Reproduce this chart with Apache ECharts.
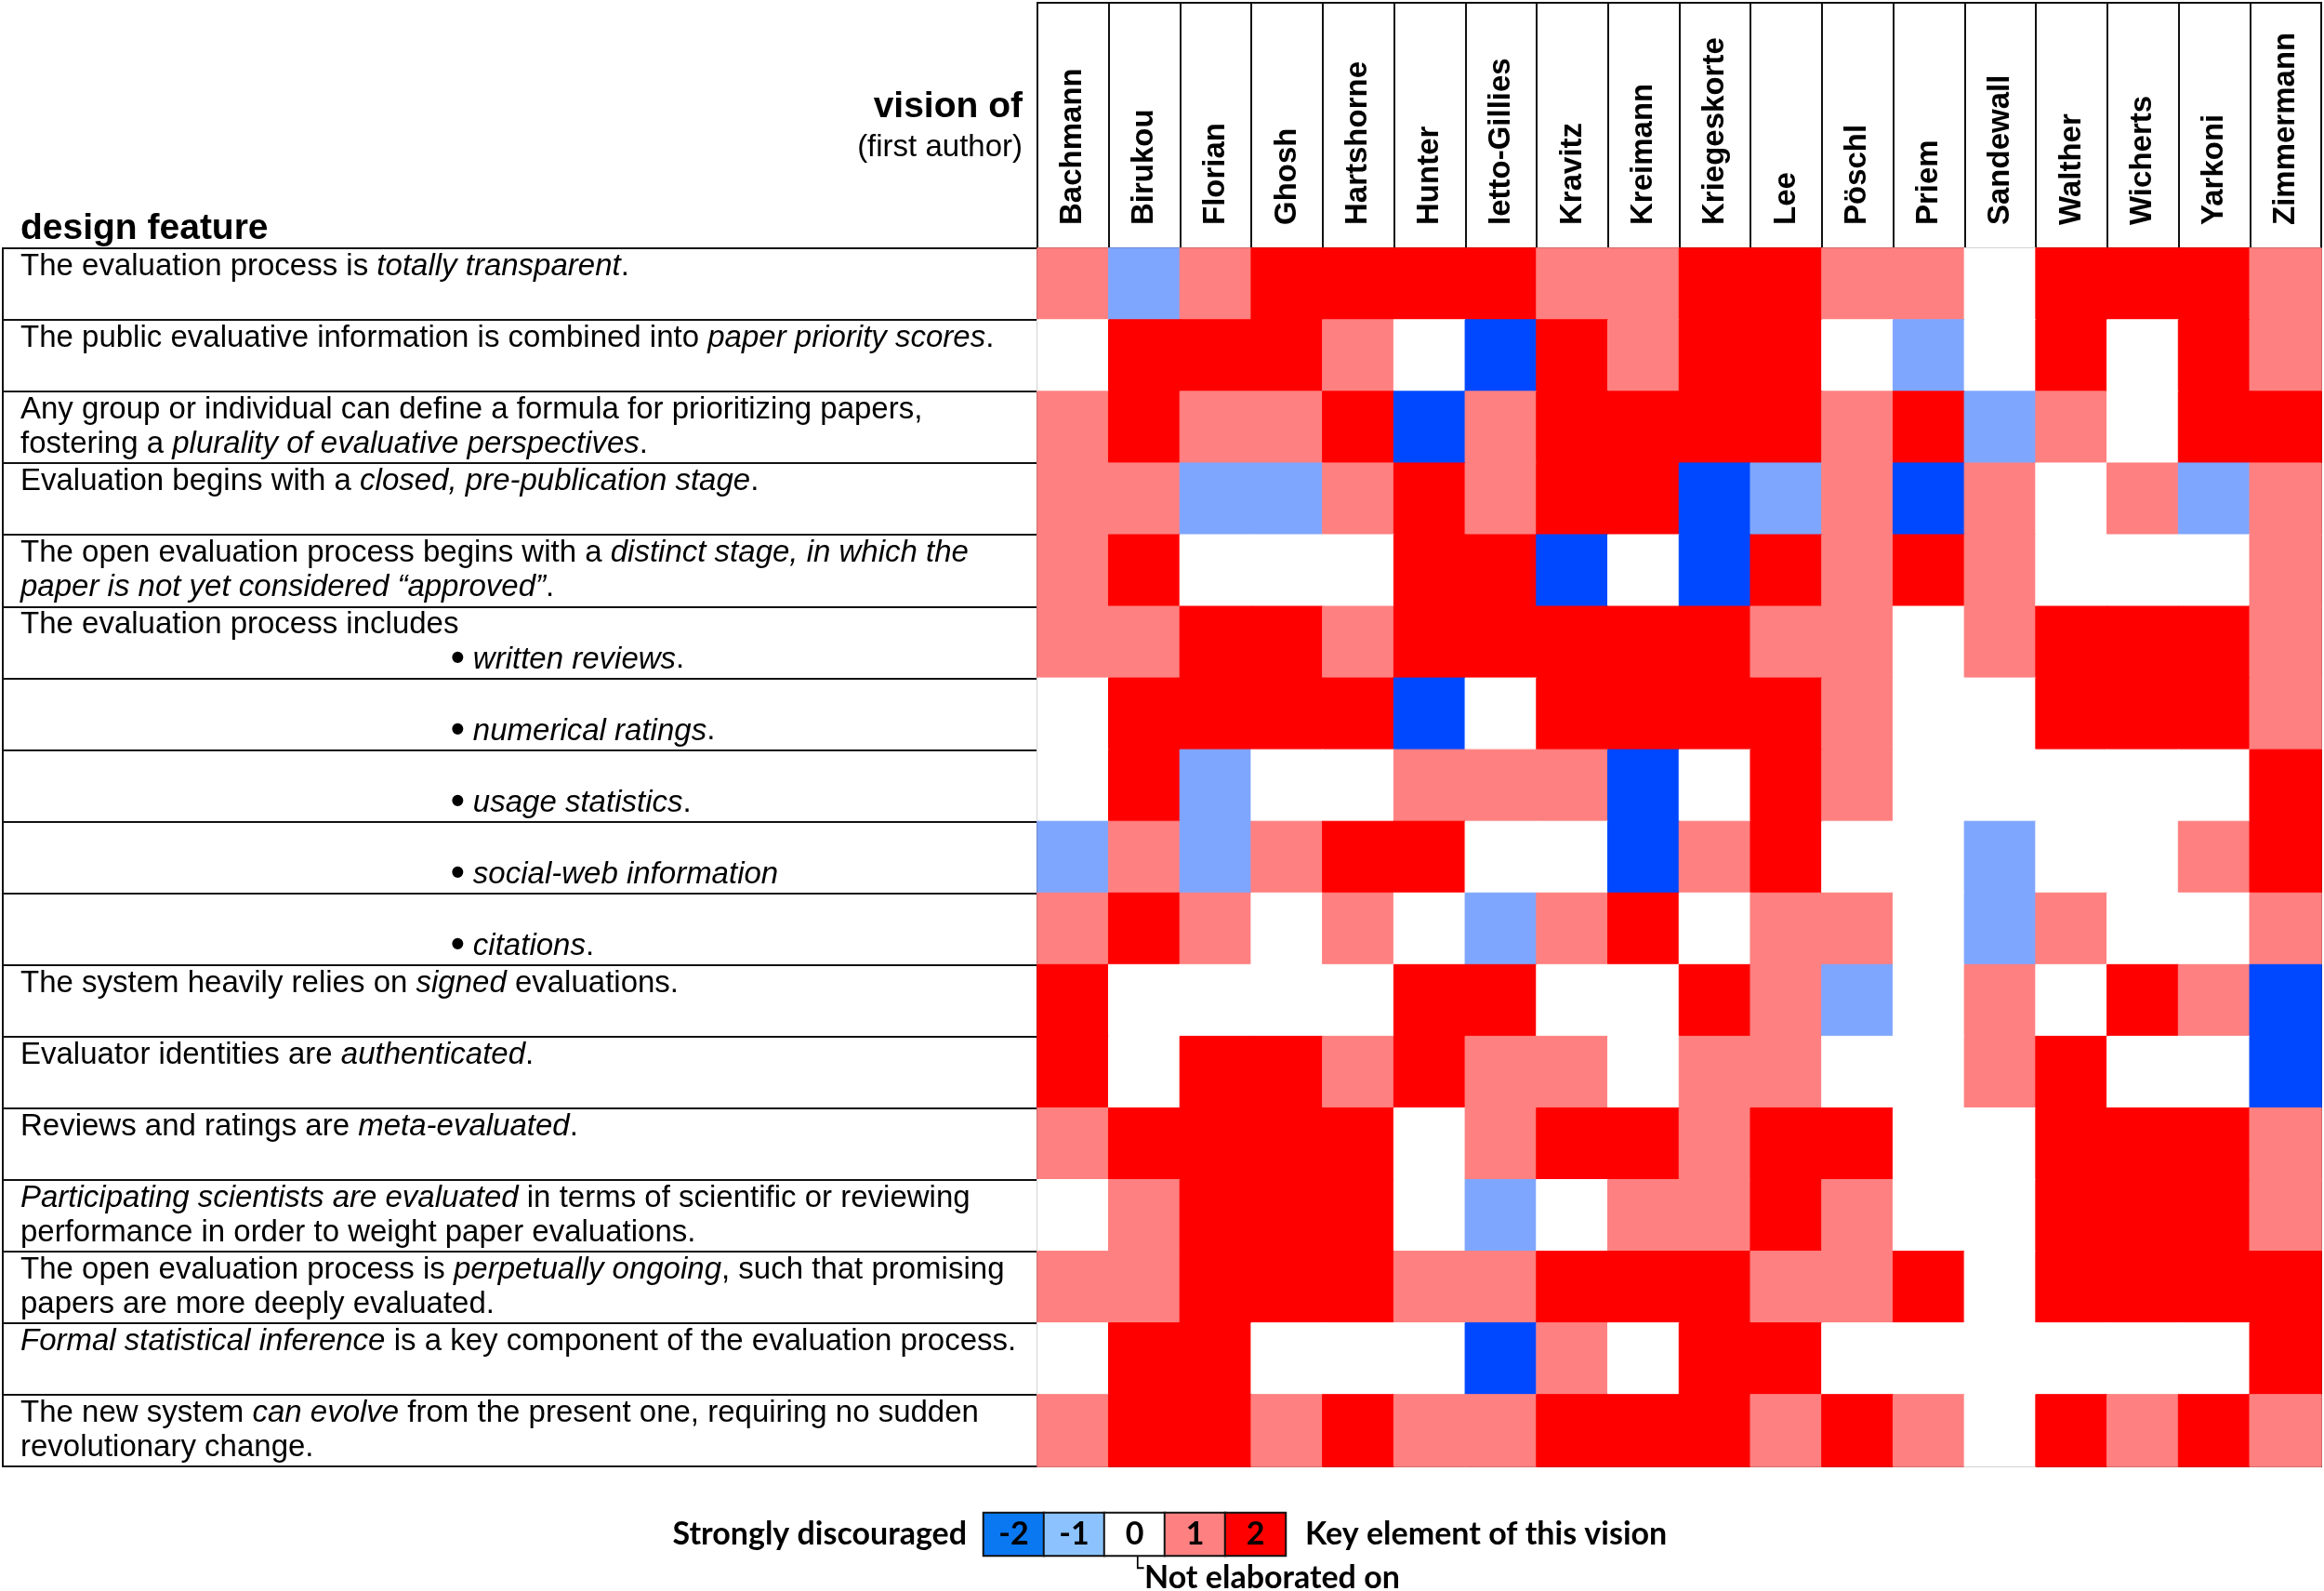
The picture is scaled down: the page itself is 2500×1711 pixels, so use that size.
<!DOCTYPE html>
<html><head><meta charset="utf-8">
<script src="https://cdn.jsdelivr.net/npm/echarts@6/dist/echarts.min.js"></script>
<style>html,body{margin:0;padding:0;background:#fff}#c{width:2500px;height:1711px}</style>
</head><body><div id="c"></div>
<script>
// ---- data ----
const authors = ['Bachmann','Birukou','Florian','Ghosh','Hartshorne','Hunter','Ietto-Gillies','Kravitz','Kreimann','Kriegeskorte','Lee','Pöschl','Priem','Sandewall','Walther','Wicherts','Yarkoni','Zimmermann'];

// design features (*...* = italic, \n = line break, "• " = indented bullet)
const features = [
  'The evaluation process is *totally transparent*.',
  'The public evaluative information is combined into *paper priority scores*.',
  'Any group or individual can define a formula for prioritizing papers,\nfostering a *plurality of evaluative perspectives*.',
  'Evaluation begins with a *closed, pre-publication stage*.',
  'The open evaluation process begins with a *distinct stage, in which the*\n*paper is not yet considered “approved”*.',
  'The evaluation process includes\n• *written reviews*.',
  ' \n• *numerical ratings*.',
  '  \n• *usage statistics*.',
  '   \n• *social-web information*',
  '    \n• *citations*.',
  'The system heavily relies on *signed* evaluations.',
  'Evaluator identities are *authenticated*.',
  'Reviews and ratings are *meta-evaluated*.',
  '*Participating scientists are evaluated* in terms of scientific or reviewing\nperformance in order to weight paper evaluations.',
  'The open evaluation process is *perpetually ongoing*, such that promising\npapers are more deeply evaluated.',
  '*Formal statistical inference* is a key component of the evaluation process.',
  'The new system *can evolve* from the present one, requiring no sudden\nrevolutionary change.'
];

// scores per feature row, one value per author (-2 .. 2)
const rowTransparent   = [ 1,-1, 1, 2, 2, 2, 2, 1, 1, 2, 2, 1, 1, 0, 2, 2, 2, 1];
const rowPriority      = [ 0, 2, 2, 2, 1, 0,-2, 2, 1, 2, 2, 0,-1, 0, 2, 0, 2, 1];
const rowPlurality     = [ 1, 2, 1, 1, 2,-2, 1, 2, 2, 2, 2, 1, 2,-1, 1, 0, 2, 2];
const rowClosedPrepub  = [ 1, 1,-1,-1, 1, 2, 1, 2, 2,-2,-1, 1,-2, 1, 0, 1,-1, 1];
const rowDistinctStage = [ 1, 2, 0, 0, 0, 2, 2,-2, 0,-2, 2, 1, 2, 1, 0, 0, 0, 1];
const rowWritten       = [ 1, 1, 2, 2, 1, 2, 2, 2, 2, 2, 1, 1, 0, 1, 2, 2, 2, 1];
const rowNumerical     = [ 0, 2, 2, 2, 2,-2, 0, 2, 2, 2, 2, 1, 0, 0, 2, 2, 2, 1];
const rowUsage         = [ 0, 2,-1, 0, 0, 1, 1, 1,-2, 0, 2, 1, 0, 0, 0, 0, 0, 2];
const rowSocialWeb     = [-1, 1,-1, 1, 2, 2, 0, 0,-2, 1, 2, 0, 0,-1, 0, 0, 1, 2];
const rowCitations     = [ 1, 2, 1, 0, 1, 0,-1, 1, 2, 0, 1, 1, 0,-1, 1, 0, 0, 1];
const rowSigned        = [ 2, 0, 0, 0, 0, 2, 2, 0, 0, 2, 1,-1, 0, 1, 0, 2, 1,-2];
const rowAuthenticated = [ 2, 0, 2, 2, 1, 2, 1, 1, 0, 1, 1, 0, 0, 1, 2, 0, 0,-2];
const rowMetaEval      = [ 1, 2, 2, 2, 2, 0, 1, 2, 2, 1, 2, 2, 0, 0, 2, 2, 2, 1];
const rowScientists    = [ 0, 1, 2, 2, 2, 0,-1, 0, 1, 1, 2, 1, 0, 0, 2, 2, 2, 1];
const rowOngoing       = [ 1, 1, 2, 2, 2, 1, 1, 2, 2, 2, 1, 1, 2, 0, 2, 2, 2, 2];
const rowStatInference = [ 0, 2, 2, 0, 0, 0,-2, 1, 0, 2, 2, 0, 0, 0, 0, 0, 0, 2];
const rowCanEvolve     = [ 1, 2, 2, 1, 2, 1, 1, 2, 2, 2, 1, 2, 1, 0, 2, 1, 2, 1];

const scoreRows = [rowTransparent,rowPriority,rowPlurality,rowClosedPrepub,rowDistinctStage,
  rowWritten,rowNumerical,rowUsage,rowSocialWeb,rowCitations,rowSigned,rowAuthenticated,
  rowMetaEval,rowScientists,rowOngoing,rowStatInference,rowCanEvolve];

const legendValues = [-2,-1,0,1,2];

// ---- styles ----
const cellColor = {'-2':'#0048FF','-1':'#7FA6FF','0':'#FFFFFF','1':'#FF8080','2':'#FF0000'};
const legendColor = {'-2':'#0A78F0','-1':'#8CC3FF','0':'#FFFFFF','1':'#FF8080','2':'#FF0000'};
const LINE = '#111';
const SANS = '"Liberation Sans", Arial, sans-serif';
const LEG = 'Lato, "Open Sans", sans-serif';
const GL = 1116, GR = 2497, GT = 267, GB = 1577;

function toRich(s) {
  let lines = s.split('\n');
  if (lines.length === 1) lines.push(' ');
  return lines.map(line => {
    let pre = '';
    if (line.startsWith('• ')) { pre = '{ind| }{b|•}{n| }'; line = line.slice(2); }
    const body = line.split('*').map((p, i) => p === '' ? '' : (i % 2 ? '{i|' + p + '}' : '{n|' + p + '}')).join('');
    return pre + (body || '{n| }');
  }).join('\n');
}

const base = {fontSize: 33, fontFamily: SANS, color: '#000', lineHeight: 37};

const heatData = [];
scoreRows.forEach((row, i) => row.forEach((v, j) => {
  const c = cellColor[String(v)];
  heatData.push({value: [j, i, v], itemStyle: {color: c, borderColor: c, borderWidth: 1}});
}));
const legendData = legendValues.map((v, k) => ({value: [k, 0, v], itemStyle: {color: legendColor[String(v)]}}));

const option = {
  backgroundColor: '#fff',
  animation: false,
  grid: [
    {left: 3, top: GT, width: GL - 3, height: GB - GT, show: true, borderColor: LINE, borderWidth: 2, backgroundColor: 'transparent'},
    {left: GL, top: GT, width: GR - GL, height: GB - GT, show: true, borderColor: LINE, borderWidth: 2, backgroundColor: 'transparent'},
    {left: GL, top: 3, width: GR - GL, height: GT - 3, show: true, borderColor: LINE, borderWidth: 2, backgroundColor: 'transparent'},
    {left: 1058, top: 1627, width: 325, height: 46}
  ],
  xAxis: [
    {gridIndex: 0, type: 'value', min: 0, max: 1, show: false},
    {gridIndex: 1, type: 'category', data: authors, position: 'top',
      axisLine: {show: true, lineStyle: {color: LINE, width: 2}},
      axisTick: {show: true, length: GT - 3, interval: 0, lineStyle: {color: LINE, width: 2}},
      axisLabel: {interval: 0, rotate: -90, margin: 25, fontSize: 33, fontWeight: 'bold', fontFamily: SANS, color: '#000'},
      splitLine: {show: false}},
    {gridIndex: 2, type: 'value', min: 0, max: 1, show: false},
    {gridIndex: 3, type: 'category', data: legendValues.map(String), show: false}
  ],
  yAxis: [
    {gridIndex: 0, type: 'category', data: features, inverse: true,
      axisLine: {show: false}, axisTick: {show: false},
      splitLine: {show: true, interval: 0, lineStyle: {color: LINE, width: 2}},
      axisLabel: Object.assign({inside: true, interval: 0, margin: 19, align: 'left', formatter: toRich,
        rich: {
          n: Object.assign({}, base),
          i: Object.assign({fontStyle: 'italic'}, base),
          ind: Object.assign({width: 463}, base),
          b: Object.assign({}, base, {fontSize: 42, fontWeight: 'bold'})
        }}, base)},
    {gridIndex: 1, type: 'category', data: features, inverse: true, show: false},
    {gridIndex: 2, type: 'value', min: 0, max: 1, show: false},
    {gridIndex: 3, type: 'category', data: [''], show: false}
  ],
  series: [
    {type: 'heatmap', xAxisIndex: 1, yAxisIndex: 1, data: heatData, silent: true,
      emphasis: {disabled: true}, label: {show: false}},
    {type: 'heatmap', xAxisIndex: 3, yAxisIndex: 3, data: legendData, silent: true,
      emphasis: {disabled: true},
      itemStyle: {borderColor: LINE, borderWidth: 2},
      label: {show: true, formatter: p => String(p.value[2]), fontSize: 34, fontWeight: 'bold', fontFamily: LEG, color: '#000'}}
  ],
  graphic: [
    {type: 'text', x: 1100, y: 115, style: {text: 'vision of', align: 'right', verticalAlign: 'middle', fontSize: 39, fontWeight: 'bold', fontFamily: SANS, fill: '#000'}},
    {type: 'text', x: 1100, y: 159, style: {text: '(first author)', align: 'right', verticalAlign: 'middle', fontSize: 33, fontFamily: SANS, fill: '#000'}},
    {type: 'text', x: 22, y: 246, style: {text: 'design feature', align: 'left', verticalAlign: 'middle', fontSize: 39, fontWeight: 'bold', fontFamily: SANS, fill: '#000'}},
    {type: 'text', x: 1040, y: 1650, style: {text: 'Strongly discouraged', align: 'right', verticalAlign: 'middle', fontSize: 34, fontWeight: 'bold', fontFamily: LEG, fill: '#000'}},
    {type: 'text', x: 1404, y: 1650, style: {text: 'Key element of this vision', align: 'left', verticalAlign: 'middle', fontSize: 34, fontWeight: 'bold', fontFamily: LEG, fill: '#000'}},
    {type: 'text', x: 1217, y: 1688, style: {text: '└', align: 'left', verticalAlign: 'middle', fontSize: 22, fontFamily: 'DejaVu Sans', fill: '#000'}},
    {type: 'text', x: 1231, y: 1697, style: {text: 'Not elaborated on', align: 'left', verticalAlign: 'middle', fontSize: 34, fontWeight: 'bold', fontFamily: LEG, fill: '#000'}}
  ]
};

const chart = echarts.init(document.getElementById('c'), null, {renderer: 'canvas'});
chart.setOption(option);
</script>
</body></html>
